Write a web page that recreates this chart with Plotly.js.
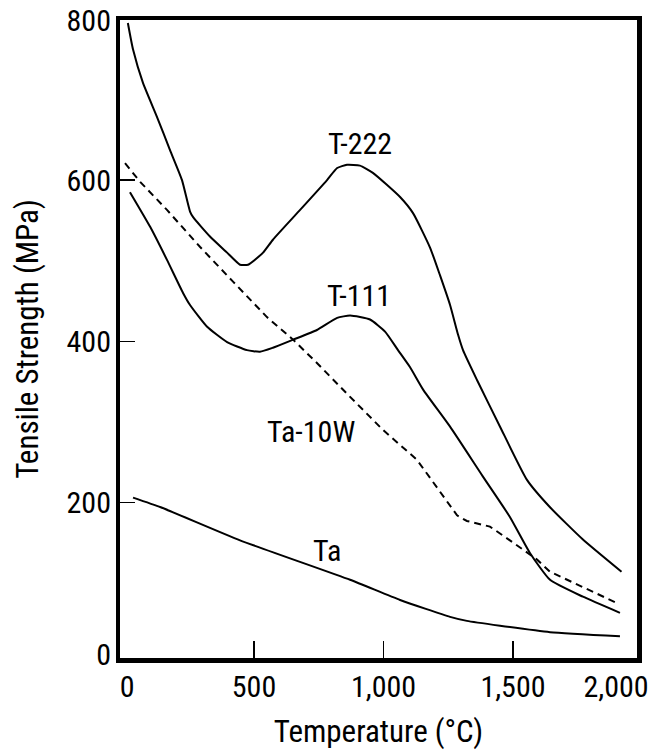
<!DOCTYPE html>
<html>
<head>
<meta charset="utf-8">
<script src="https://cdn.plot.ly/plotly-3.0.1.min.js"></script>
<style>
  html, body { margin: 0; padding: 0; background: #fff; }
  #chart { width: 653px; height: 750px; }
</style>
</head>
<body>
<div id="chart"></div>
<script>
// Temperature (°C) and tensile strength (MPa)
const t222_T = [13, 33, 71, 126, 176, 222, 253, 265, 330, 396, 446, 477, 535, 573, 678, 782, 821, 859, 909, 959, 1064, 1114, 1180, 1218, 1257, 1288, 1307, 1361, 1450, 1554, 1643, 1770, 1919];
const t222_S = [795, 762, 721, 678, 637, 600, 561, 554, 530, 510, 495, 495, 510, 526, 563, 600, 615, 619, 618, 609, 579, 559, 516, 482, 445, 408, 389, 352, 294, 228, 194, 154, 114];

const t111_T = [21, 99, 164, 226, 253, 319, 396, 473, 523, 573, 651, 743, 821, 871, 948, 1006, 1056, 1102, 1153, 1257, 1384, 1488, 1566, 1643, 1770, 1913];
const t111_S = [585, 542, 501, 460, 445, 418, 399, 389, 387, 392, 402, 414, 429, 432, 427, 412, 389, 368, 340, 294, 232, 182, 137, 104, 83, 63];

const ta10w_T = [2, 60, 164, 292, 419, 550, 651, 743, 871, 998, 1129, 1284, 1322, 1411, 1488, 1593, 1643, 1770, 1902];
const ta10w_S = [621, 598, 563, 517, 474, 430, 402, 373, 331, 290, 253, 184, 177, 170, 153, 129, 114, 95, 75];

const ta_T = [33, 140, 446, 871, 1064, 1257, 1322, 1450, 1643, 1913];
const ta_S = [206, 194, 153, 104, 79, 58, 53, 47, 39, 34];

// axis ticks
const xTickVals = [500, 1000, 1500];
const xLabelVals = [10, 500, 1000, 1500, 1898];
const xLabelText = ['0', '500', '1,000', '1,500', '2,000'];
const yTickVals = [200, 400, 600];
const yLabelVals = [10.7, 200, 400, 600, 798.5];
const yLabelText = ['0', '200', '400', '600', '800'];

const FONT = '"Roboto Condensed", "DejaVu Sans Condensed", "Liberation Sans", sans-serif';
const XR = [-17.4, 1978.8];
const YR = [6.95, 798.7];

const solid = {color: '#000', width: 2, shape: 'spline', smoothing: 0.5};
const traces = [
  {x: t222_T, y: t222_S, name: 'T-222', mode: 'lines', line: solid},
  {x: t111_T, y: t111_S, name: 'T-111', mode: 'lines', line: solid},
  {x: ta10w_T, y: ta10w_S, name: 'Ta-10W', mode: 'lines', line: {color: '#000', width: 2, dash: '7px,5px'}},
  {x: ta_T, y: ta_S, name: 'Ta', mode: 'lines', line: solid},
  {x: [XR[0]], y: [YR[0]], xaxis: 'x2', yaxis: 'y2', mode: 'markers', marker: {opacity: 0}, hoverinfo: 'skip', showlegend: false}
];

const layout = {
  width: 653, height: 750,
  margin: {l: 120, r: 16, t: 20, b: 92},
  paper_bgcolor: '#fff', plot_bgcolor: '#fff',
  showlegend: false,
  font: {family: FONT, size: 30, color: '#000'},
  xaxis: {
    range: XR, showgrid: false, zeroline: false,
    showline: true, mirror: true, linewidth: 4.5, linecolor: '#000',
    ticks: 'inside', ticklen: 17, tickwidth: 1.5, tickcolor: '#000',
    tickmode: 'array', tickvals: xTickVals, showticklabels: false
  },
  yaxis: {
    range: YR, showgrid: false, zeroline: false,
    showline: true, mirror: true, linewidth: 4.5, linecolor: '#000',
    ticks: 'inside', ticklen: 15, tickwidth: 1.5, tickcolor: '#000',
    tickmode: 'array', tickvals: yTickVals, showticklabels: false
  },
  xaxis2: {
    overlaying: 'x', anchor: 'y2', side: 'bottom', range: XR,
    showgrid: false, zeroline: false, showline: false, ticks: '',
    tickmode: 'array', tickvals: xLabelVals, ticktext: xLabelText,
    ticklabelstandoff: 8,
    tickfont: {family: FONT, size: 30, color: '#000'},
    title: {text: 'Temperature (°C)', font: {family: FONT, size: 31, color: '#000'}, standoff: 20}
  },
  yaxis2: {
    overlaying: 'y', anchor: 'x2', side: 'left', range: YR,
    showgrid: false, zeroline: false, showline: false, ticks: '',
    tickmode: 'array', tickvals: yLabelVals, ticktext: yLabelText,
    ticklabelstandoff: 8,
    tickfont: {family: FONT, size: 30, color: '#000'},
    title: {text: 'Tensile Strength (MPa)', font: {family: FONT, size: 31, color: '#000'}, standoff: 18}
  },
  annotations: [
    {text: 'T-222', x: 909, y: 645, xref: 'x', yref: 'y', showarrow: false, font: {family: FONT, size: 30, color: '#000'}},
    {text: 'T-111', x: 905, y: 457, xref: 'x', yref: 'y', showarrow: false, font: {family: FONT, size: 30, color: '#000'}},
    {text: 'Ta-10W', x: 720, y: 287.5, xref: 'x', yref: 'y', showarrow: false, font: {family: FONT, size: 30, color: '#000'}},
    {text: 'Ta', x: 782, y: 140, xref: 'x', yref: 'y', showarrow: false, font: {family: FONT, size: 30, color: '#000'}}
  ]
};

Plotly.newPlot('chart', traces, layout, {displayModeBar: false, staticPlot: true});
</script>
</body>
</html>
